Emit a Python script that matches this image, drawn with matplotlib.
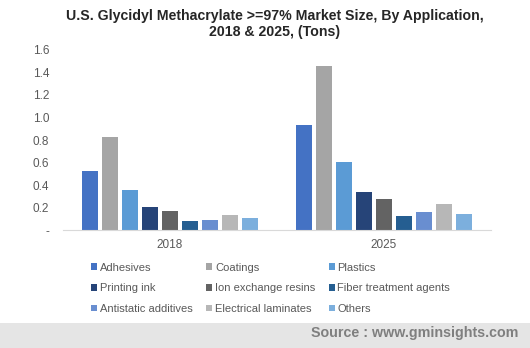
import matplotlib
matplotlib.use("Agg")
import matplotlib.pyplot as plt
import numpy as np
from matplotlib.patches import Rectangle

plt.rcParams["font.family"] = ["Liberation Sans", "DejaVu Sans"]

years = ["2018", "2025"]
series = ["Adhesives", "Coatings", "Plastics", "Printing ink", "Ion exchange resins",
          "Fiber treatment agents", "Antistatic additives", "Electrical laminates", "Others"]
adhesives = [0.53, 0.93]
coatings = [0.83, 1.46]
plastics = [0.36, 0.61]
printing_ink = [0.21, 0.34]
ion_exchange = [0.17, 0.28]
fiber_treatment = [0.08, 0.125]
antistatic = [0.09, 0.16]
electrical = [0.135, 0.23]
others = [0.11, 0.145]
values = [adhesives, coatings, plastics, printing_ink, ion_exchange,
          fiber_treatment, antistatic, electrical, others]
colors = ["#4472C4", "#A5A5A5", "#5B9BD5", "#264478", "#636363",
          "#255E91", "#698ED0", "#B7B7B7", "#7CAFDD"]
yticks = [0, 0.2, 0.4, 0.6, 0.8, 1.0, 1.2, 1.4, 1.6]
ytick_labels = ["-", "0.2", "0.4", "0.6", "0.8", "1.0", "1.2", "1.4", "1.6"]

fig = plt.figure(figsize=(5.3, 3.48), dpi=100)
ax = fig.add_axes([0.119, 0.338, 0.807, 0.519])

x = np.arange(len(years))
pitch = 0.0935
width = 0.075
n = len(series)
handles = []
for i, (name, vals, c) in enumerate(zip(series, values, colors)):
    h = ax.bar(x + (i - (n - 1) / 2) * pitch, vals, width, color=c, label=name)
    handles.append(h)

ax.set_xlim(-0.5, 1.5)
ax.set_ylim(0, 1.6)
ax.set_yticks(yticks)
ax.set_yticklabels(ytick_labels)
ax.set_xticks(x)
ax.set_xticklabels(years)
for s in ["top", "right", "left"]:
    ax.spines[s].set_visible(False)
ax.spines["bottom"].set_color("#D9D9D9")
ax.tick_params(axis="both", length=0, labelsize=8.5, colors="#595959")
ax.tick_params(axis="y", pad=10)
ax.tick_params(axis="x", pad=6)

fig.text(0.518, 0.931, "U.S. Glycidyl Methacrylate >=97% Market Size, By Application,\n2018 & 2025, (Tons)",
         ha="center", va="center", fontsize=10.2, fontweight="bold", color="#262626",
         linespacing=1.2)

order = [0, 3, 6, 1, 4, 7, 2, 5, 8]
leg = fig.legend([handles[k] for k in order], [series[k] for k in order],
                 loc="upper left", bbox_to_anchor=(0.172, 0.245), ncol=3,
                 frameon=False, fontsize=8, handlelength=0.55, handleheight=0.55,
                 handletextpad=0.25, columnspacing=1.2, labelspacing=0.95,
                 borderaxespad=0, borderpad=0)
for t in leg.get_texts():
    t.set_color("#595959")

fig.patches.append(Rectangle((0, 0), 1, 0.072, transform=fig.transFigure,
                             facecolor="#E5E5E5", edgecolor="none", zorder=-1))
fig.text(0.978, 0.043, "Source : www.gminsights.com", ha="right", va="center",
         fontsize=10.3, fontweight="bold", color="#7F7F7F")

fig.savefig("out.png", dpi=100)
